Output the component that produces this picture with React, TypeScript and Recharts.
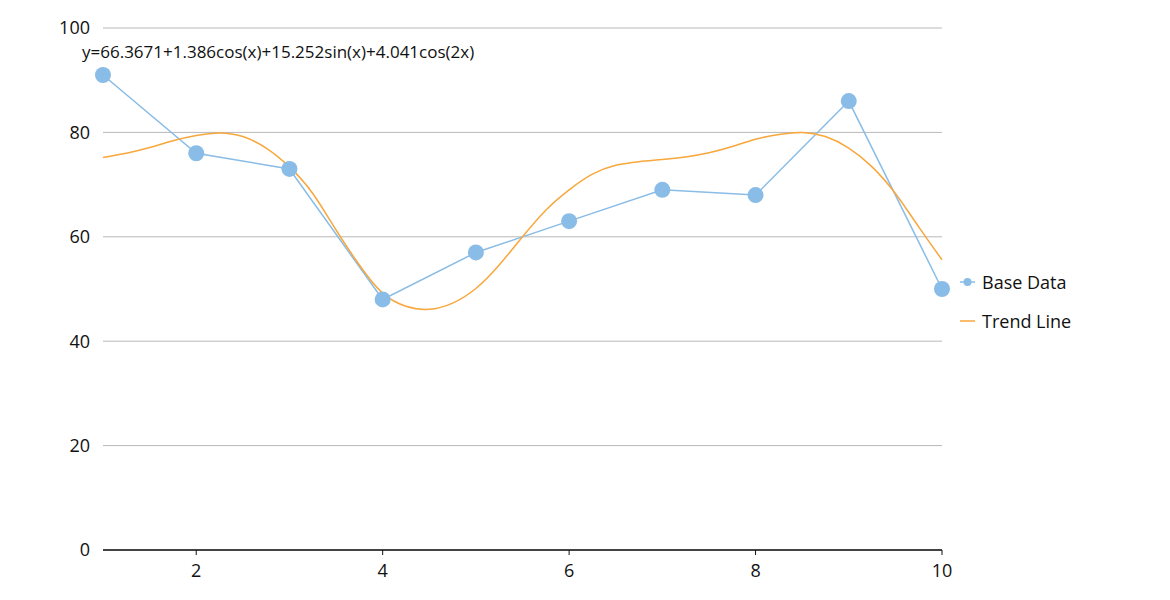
import React from 'react';
import { LineChart, Line, XAxis, YAxis, CartesianGrid, Legend, Customized } from 'recharts';

const baseX = [1, 2, 3, 4, 5, 6, 7, 8, 9, 10];
const baseY = [91, 76, 73, 48, 57, 63, 69, 68, 86, 50];

const trendX = [
  1, 1.25, 1.5, 1.75, 2, 2.25, 2.5, 2.75, 3, 3.25, 3.5, 3.75, 4, 4.25, 4.5, 4.75, 5, 5.25, 5.5,
  5.75, 6, 6.25, 6.5, 6.75, 7, 7.25, 7.5, 7.75, 8, 8.25, 8.5, 8.75, 9, 9.25, 9.5, 9.75, 10,
];
const trendY = [
  75.2, 76.0, 77.1, 78.4, 79.4, 79.9, 79.2, 77.0, 73.4, 68.3, 61.3, 54.6, 49.2, 46.7, 46.1, 47.3,
  50.1, 54.6, 60.0, 65.1, 69.0, 72.0, 73.7, 74.4, 74.8, 75.3, 76.1, 77.3, 78.7, 79.6, 80.0, 79.2,
  77.0, 73.4, 68.3, 61.9, 55.6,
];

const xTicks = [2, 4, 6, 8, 10];
const yTicks = [0, 20, 40, 60, 80, 100];
const equation = 'y=66.3671+1.386cos(x)+15.252sin(x)+4.041cos(2x)';
const seriesNames = ['Base Data', 'Trend Line'];

const BLUE = '#89bce6';
const ORANGE = '#f7a73c';
const FONT = '"Open Sans", "Noto Sans", sans-serif';

const baseData = baseX.map((x, i) => ({ x, y: baseY[i] }));
const trendData = trendX.map((x, i) => ({ x, y: trendY[i] }));

const LegendContent = () => (
  <div style={{ width: 130, fontFamily: FONT, fontSize: 18, color: '#111', paddingBottom: 4 }}>
    <div style={{ height: 39, display: 'flex', alignItems: 'center' }}>
      <svg width={40} height={14} style={{ flex: 'none' }}>
        <line x1={18} y1={7} x2={33} y2={7} stroke={BLUE} strokeWidth={1.5} />
        <circle cx={25.5} cy={7} r={4} fill={BLUE} />
      </svg>
      <span>{seriesNames[0]}</span>
    </div>
    <div style={{ height: 39, display: 'flex', alignItems: 'center' }}>
      <svg width={40} height={14} style={{ flex: 'none' }}>
        <line x1={18} y1={7} x2={33} y2={7} stroke={ORANGE} strokeWidth={1.5} />
      </svg>
      <span>{seriesNames[1]}</span>
    </div>
  </div>
);

const EquationLabel = () => (
  <text x={74} y={50} fontSize={17} fill="#111" fontFamily={FONT}>
    {equation}
  </text>
);

export default function App() {
  return (
    <div style={{ fontFamily: FONT }}>
      <LineChart
        width={1064}
        height={590}
        margin={{ top: 20, right: 0, bottom: 8, left: 0 }}
      >
        <CartesianGrid vertical={false} stroke="#b8b8b8" strokeWidth={1} />
        <XAxis
          dataKey="x"
          type="number"
          domain={[1, 10]}
          ticks={xTicks}
          height={40}
          tickSize={5}
          tickMargin={9}
          stroke="#111"
          axisLine={{ stroke: '#111', strokeWidth: 1.5 }}
          tickLine={{ stroke: '#111' }}
          tick={{ fill: '#111', fontSize: 18 }}
          allowDuplicatedCategory={false}
        />
        <YAxis
          type="number"
          domain={[0, 100]}
          ticks={yTicks}
          width={95}
          axisLine={false}
          tickLine={false}
          tickSize={0}
          tickMargin={13}
          tick={{ fill: '#111', fontSize: 18 }}
        />
        <Legend
          layout="vertical"
          align="right"
          verticalAlign="middle"
          content={<LegendContent />}
        />
        <Line
          data={baseData}
          dataKey="y"
          name={seriesNames[0]}
          type="linear"
          stroke={BLUE}
          strokeWidth={1.5}
          dot={{ r: 8, fill: BLUE, stroke: BLUE, strokeWidth: 0 }}
          activeDot={false}
          isAnimationActive={false}
        />
        <Line
          data={trendData}
          dataKey="y"
          name={seriesNames[1]}
          type="natural"
          stroke={ORANGE}
          strokeWidth={1.5}
          dot={false}
          activeDot={false}
          isAnimationActive={false}
        />
        <Customized component={EquationLabel} />
      </LineChart>
    </div>
  );
}
